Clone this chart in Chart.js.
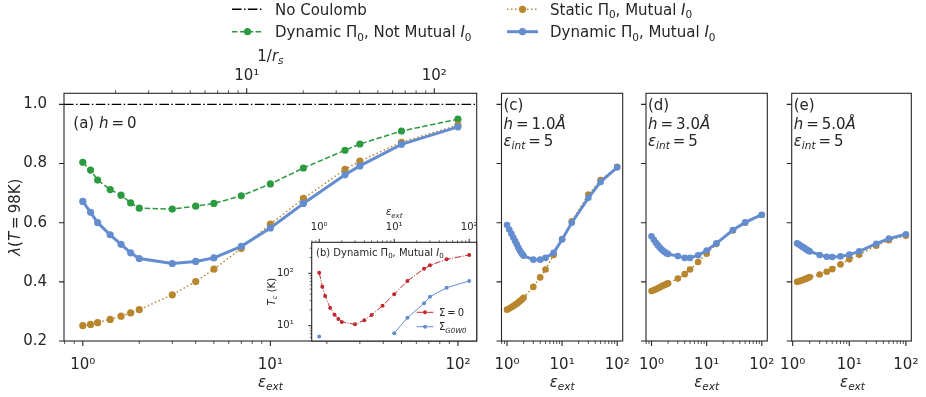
<!DOCTYPE html>
<html>
<head>
<meta charset="utf-8">
<script src="https://cdn.jsdelivr.net/npm/chart.js@4.4.1/dist/chart.umd.min.js"></script>
<style>
  body { margin: 0; background: #fff; overflow: hidden; }
  #wrap { position: relative; width: 926px; height: 397px; }
  #wrap canvas { position: absolute; left: 0; top: 0; }
</style>
</head>
<body>
<div id="wrap">
  <canvas id="chartA" width="926" height="397"></canvas>
  <canvas id="chartB" width="926" height="397"></canvas>
  <canvas id="chartC" width="926" height="397"></canvas>
  <canvas id="chartD" width="926" height="397"></canvas>
  <canvas id="chartE" width="926" height="397"></canvas>
</div>
<script>
// (a) h = 0 : lambda(T = 98K) against eps_ext
var EPS_A = [1, 1.1, 1.2, 1.4, 1.6, 1.8, 2, 3, 4, 5, 7, 10, 15, 25, 30, 50, 100];
var NOT_MUTUAL_A = [0.804, 0.778, 0.744, 0.712, 0.693, 0.667, 0.649, 0.646, 0.656, 0.665, 0.691, 0.731, 0.785, 0.845, 0.866, 0.910, 0.950];
var STATIC_A = [0.252, 0.256, 0.262, 0.273, 0.284, 0.295, 0.306, 0.356, 0.401, 0.443, 0.513, 0.595, 0.682, 0.780, 0.808, 0.872, 0.930];
var DYNAMIC_A = [0.672, 0.635, 0.600, 0.559, 0.527, 0.498, 0.479, 0.462, 0.469, 0.481, 0.520, 0.582, 0.665, 0.762, 0.792, 0.865, 0.924];
var NO_COULOMB = 1.0;

// (b) inset : Tc (K), dynamic Pi0 with mutual I0
var TC_SIGMA0 = [102.6, 55.5, 36.9, 21.8, 16.2, 13.4, 11.8, 10.6, 12.7, 16.0, 24.1, 39.7, 71.3, 122, 142, 185, 223];
var TC_GW = [6.2, null, null, null, null, null, null, null, null, null, null, 7.2, 14.2, 26.7, 35.7, 53, 71.3];

// (c) h = 1.0 A, (d) h = 3.0 A
var EPS_CD = [1, 1.1, 1.2, 1.3, 1.4, 1.5, 1.6, 1.7, 1.8, 1.9, 2, 3, 4, 5, 7, 10, 15, 30, 50, 100];
var DYNAMIC_C = [0.592, 0.577, 0.563, 0.550, 0.538, 0.527, 0.516, 0.507, 0.499, 0.493, 0.488, 0.475, 0.475, 0.481, 0.498, 0.543, 0.600, 0.684, 0.738, 0.787];
var STATIC_C = [0.306, 0.310, 0.314, 0.318, 0.322, 0.326, 0.330, 0.334, 0.338, 0.342, 0.346, 0.383, 0.415, 0.442, 0.491, 0.545, 0.605, 0.695, 0.744, 0.789];
var DYNAMIC_D = [0.554, 0.542, 0.532, 0.524, 0.517, 0.511, 0.506, 0.502, 0.499, 0.496, 0.494, 0.487, 0.481, 0.481, 0.490, 0.506, 0.530, 0.575, 0.601, 0.627];
var STATIC_D = [0.369, 0.372, 0.375, 0.378, 0.381, 0.384, 0.387, 0.389, 0.391, 0.393, 0.395, 0.411, 0.426, 0.442, 0.467, 0.495, 0.528, 0.574, 0.600, 0.626];

// (e) h = 5.0 A
var EPS_E = [1.2, 1.3, 1.4, 1.5, 1.6, 1.7, 1.8, 1.9, 2, 3, 4, 5, 7, 10, 15, 30, 50, 100];
var DYNAMIC_E = [0.530, 0.526, 0.522, 0.518, 0.515, 0.511, 0.508, 0.505, 0.503, 0.491, 0.485, 0.484, 0.486, 0.492, 0.503, 0.529, 0.546, 0.561];
var STATIC_E = [0.400, 0.402, 0.404, 0.406, 0.408, 0.410, 0.412, 0.414, 0.416, 0.425, 0.434, 0.443, 0.459, 0.476, 0.492, 0.522, 0.541, 0.556];

// axis limits and ticks
var X_LIM = [0.794, 125.9];
var X_LIM_E = [0.962, 124.8];
var RS_LIM = [1.062, 168.3];
var Y_LIM = [0.2, 1.0375];
var TC_LIM = [5.1, 390];
var Y_TICKS = [0.2, 0.4, 0.6, 0.8, 1.0];
var DECADES = [1, 10, 100];
var DECADE_MINOR = [0.6, 0.7, 0.8, 0.9, 2, 3, 4, 5, 6, 7, 8, 9, 20, 30, 40, 50, 60, 70, 80, 90, 200, 300];
var POW_LABELS = {1: '10\u2070', 10: '10\u00b9', 100: '10\u00b2'};

var W = 926, H = 397;
var AX_H = 30, AX_W = 40;   // room kept for tick labels around each plot area
var FONT = '"DejaVu Sans", sans-serif';
var INK = '#262626';
var BLUE = '#648dd0', GOLD = '#b8862c', GREEN = '#2c9a40', RED = '#c1272d';

function pts(xs, ys) {
    return xs.map(function(x, i) { return {x: x, y: ys[i]}; });
}

function series(xs, ys, color, width, dash, r) {
    return {
        data: pts(xs, ys),
        borderColor: color,
        borderWidth: width,
        borderDash: dash,
        borderCapStyle: 'butt',
        pointRadius: r,
        pointBackgroundColor: color,
        pointBorderColor: color,
        pointBorderWidth: 0,
        spanGaps: false,
        tension: 0
    };
}

function logAxis(pos, lim, majors, labels, size, pad) {
    return {
        type: 'logarithmic', position: pos, min: lim[0], max: lim[1], bounds: 'data',
        grid: {display: false}, border: {display: false},
        afterBuildTicks: function(s) { s.ticks = majors.map(function(v) { return {value: v}; }); },
        afterFit: function(s) { if (pos === 'left') s.width = AX_W; else s.height = AX_H; },
        ticks: {
            display: labels, autoSkip: false, maxRotation: 0, padding: pad, color: INK,
            font: {family: FONT, size: size},
            callback: function(v) { return POW_LABELS[v] || ''; }
        }
    };
}

function linAxis(labels) {
    return {
        type: 'linear', position: 'left', min: Y_LIM[0], max: Y_LIM[1], bounds: 'data',
        grid: {display: false}, border: {display: false},
        afterBuildTicks: function(s) { s.ticks = Y_TICKS.map(function(v) { return {value: v}; }); },
        afterFit: function(s) { s.width = AX_W; },
        ticks: {
            display: labels, padding: 9, color: INK, font: {family: FONT, size: 15},
            callback: function(v) { return v.toFixed(1); }
        }
    };
}

// text with italic / subscript pieces, mathtext style
function rich(ctx, segs, x, y, size, align) {
    function font(st) {
        return (st.indexOf('i') >= 0 ? 'italic ' : '') + (st.indexOf('s') >= 0 ? size * 0.7 : size) + 'px ' + FONT;
    }
    var w = 0;
    segs.forEach(function(s) { ctx.font = font(s[1]); w += ctx.measureText(s[0]).width; });
    var cx = align === 'center' ? x - w / 2 : (align === 'right' ? x - w : x);
    ctx.textAlign = 'left';
    ctx.textBaseline = 'alphabetic';
    segs.forEach(function(s) {
        ctx.font = font(s[1]);
        ctx.fillText(s[0], cx, s[1].indexOf('s') >= 0 ? y + size * 0.22 : y);
        cx += ctx.measureText(s[0]).width;
    });
}

function drawText(ctx, t) {
    if (t.rot) {
        ctx.save();
        ctx.translate(t.x, t.y);
        ctx.rotate(-Math.PI / 2);
        rich(ctx, t.segs, 0, t.off, t.size, 'center');
        ctx.restore();
    } else {
        rich(ctx, t.segs, t.x, t.y, t.size, t.align || 'left');
    }
}

function tickMarks(ctx, scale, vals, len, width) {
    var a = scale.chart.chartArea;
    ctx.lineWidth = width;
    ctx.beginPath();
    vals.forEach(function(v) {
        if (v < scale.min || v > scale.max) return;
        var p = scale.getPixelForValue(v);
        if (scale.position === 'bottom') { ctx.moveTo(p, a.bottom); ctx.lineTo(p, a.bottom + len); }
        else if (scale.position === 'top') { ctx.moveTo(p, a.top); ctx.lineTo(p, a.top - len); }
        else { ctx.moveTo(a.left, p); ctx.lineTo(a.left - len, p); }
    });
    ctx.stroke();
}

function decor(spec) {
    return {
        id: 'decor',
        beforeDraw: function(chart) {
            if (!spec.fill) return;
            var a = chart.chartArea, ctx = chart.ctx;
            ctx.save();
            ctx.fillStyle = '#fff';
            ctx.fillRect(a.left, a.top, a.right - a.left, a.bottom - a.top);
            ctx.restore();
        },
        afterDraw: function(chart) {
            var ctx = chart.ctx, a = chart.chartArea;
            ctx.save();
            ctx.strokeStyle = INK;
            spec.ticks.forEach(function(t) {
                tickMarks(ctx, chart.scales[t[0]], t[1], t[2], t[3]);
            });
            ctx.lineWidth = 1.1;
            ctx.strokeRect(a.left, a.top, a.right - a.left, a.bottom - a.top);
            ctx.fillStyle = INK;
            (spec.texts || []).forEach(function(t) { drawText(ctx, t); });
            if (spec.extra) spec.extra(ctx, chart);
            ctx.restore();
        }
    };
}

function makeChart(id, box, scales, datasets, spec) {
    var hasTop = false, hasBottom = false;
    Object.keys(scales).forEach(function(k) {
        if (scales[k].position === 'top') hasTop = true;
        if (scales[k].position === 'bottom') hasBottom = true;
    });
    return new Chart(document.getElementById(id), {
        type: 'line',
        data: {datasets: datasets},
        options: {
            responsive: false,
            animation: false,
            devicePixelRatio: 1,
            events: [],
            layout: {padding: {
                left: box[0] - AX_W,
                top: box[1] - (hasTop ? AX_H : 0),
                right: W - box[2],
                bottom: H - box[3] - (hasBottom ? AX_H : 0)
            }},
            plugins: {legend: {display: false}, tooltip: {enabled: false}},
            scales: scales
        },
        plugins: [decor(spec)]
    });
}

function handle(ctx, x0, x1, y, color, width, dash, r) {
    ctx.save();
    ctx.strokeStyle = color;
    ctx.lineWidth = width;
    ctx.setLineDash(dash);
    ctx.lineCap = 'butt';
    ctx.beginPath();
    ctx.moveTo(x0, y);
    ctx.lineTo(x1, y);
    ctx.stroke();
    if (r) {
        ctx.fillStyle = color;
        ctx.beginPath();
        ctx.arc((x0 + x1) / 2, y, r, 0, Math.PI * 2);
        ctx.fill();
    }
    ctx.restore();
}

var EPS_LABEL = [['\u03b5', 'i'], ['ext', 'is']];
var TS = '\u2009=\u2009';
var BIG_TICKS = [['x', DECADES, 5, 1.1], ['x', DECADE_MINOR, 3, 0.8], ['y', Y_TICKS, 5, 1.1]];

// (a)
makeChart('chartA', [64, 93.3, 476.7, 341], {
    x: logAxis('bottom', X_LIM, DECADES, true, 15, 7),
    xt: logAxis('top', RS_LIM, [10, 100], true, 15, 0),
    y: linAxis(true)
}, [
    series(EPS_A, DYNAMIC_A, BLUE, 3, [], 3.6),
    series(EPS_A, STATIC_A, GOLD, 1.5, [1.5, 2.5], 3.6),
    series(EPS_A, NOT_MUTUAL_A, GREEN, 1.5, [5.5, 2.4], 3.6),
    series(X_LIM, X_LIM.map(function() { return NO_COULOMB; }), '#000', 1.4, [9.6, 2.4, 1.5, 2.4], 0)
], {
    ticks: BIG_TICKS.concat([['xt', [10, 100], 5, 1.1], ['xt', DECADE_MINOR, 3, 0.8]]),
    texts: [
        {segs: EPS_LABEL, x: 270.4, y: 387, size: 15, align: 'center'},
        {segs: [['1/', ''], ['r', 'i'], ['s', 'is']], x: 270.4, y: 60.5, size: 15, align: 'center'},
        {segs: [['\u03bb', 'i'], ['(', ''], ['T', 'i'], [TS + '98K)', '']], x: 15, y: 217.2, off: 4.7, size: 15, rot: true},
        {segs: [['(a) ', ''], ['h', 'i'], [TS + '0', '']], x: 73.3, y: 128.3, size: 15}
    ],
    extra: function(ctx) {
        handle(ctx, 232, 263, 9.3, '#000', 1.4, [9.6, 2.4, 1.5, 2.4], 0);
        handle(ctx, 232, 263, 31.7, GREEN, 1.5, [5.5, 2.4], 3.6);
        handle(ctx, 507, 538, 9.3, GOLD, 1.5, [1.5, 2.5], 3.6);
        handle(ctx, 507, 538, 31.7, BLUE, 3, [], 3.6);
        ctx.fillStyle = INK;
        rich(ctx, [['No Coulomb', '']], 275, 14.8, 15);
        rich(ctx, [['Dynamic \u03a0', ''], ['0', 's'], [', Not Mutual ', ''], ['I', 'i'], ['0', 's']], 275, 37.2, 15);
        rich(ctx, [['Static \u03a0', ''], ['0', 's'], [', Mutual ', ''], ['I', 'i'], ['0', 's']], 550, 14.8, 15);
        rich(ctx, [['Dynamic \u03a0', ''], ['0', 's'], [', Mutual ', ''], ['I', 'i'], ['0', 's']], 550, 37.2, 15);
    }
});

// (b) inset
makeChart('chartB', [311.7, 242.3, 476.7, 341], {
    x: logAxis('top', X_LIM, DECADES, true, 10, 0.5),
    y: logAxis('left', TC_LIM, [10, 100], true, 10, 10)
}, [
    series(EPS_A, TC_GW, BLUE, 1, [], 2),
    series(EPS_A, TC_SIGMA0, RED, 1, [6.4, 1.6, 1, 1.6], 2)
], {
    fill: true,
    ticks: [['x', DECADES, 3.5, 1], ['x', DECADE_MINOR, 2, 0.7], ['y', [10, 100], 3.5, 1], ['y', DECADE_MINOR, 2, 0.7]],
    texts: [
        {segs: EPS_LABEL, x: 394.2, y: 215.4, size: 10, align: 'center'},
        {segs: [['T', 'i'], ['c', 'is'], [' (K)', '']], x: 271.7, y: 291.7, off: 3.2, size: 10, rot: true},
        {segs: [['(b) Dynamic \u03a0', ''], ['0', 's'], [', Mutual ', ''], ['I', 'i'], ['0', 's']], x: 316, y: 255.5, size: 10},
        {segs: [['\u03a3' + TS + '0', '']], x: 439, y: 315.9, size: 10},
        {segs: [['\u03a3', ''], ['G0W0', 'is']], x: 439, y: 330.3, size: 10}
    ],
    extra: function(ctx) {
        handle(ctx, 416.7, 433.3, 312.3, RED, 1, [6.4, 1.6, 1, 1.6], 2);
        handle(ctx, 416.7, 433.3, 326.7, BLUE, 1, [], 2);
    }
});

// (c), (d), (e)
function sidePanel(id, box, lim, eps, dyn, stat, tag, h) {
    var left = box[0] + 2, mid = (box[0] + box[2]) / 2;
    makeChart(id, box, {
        x: logAxis('bottom', lim, DECADES, true, 15, 7),
        y: linAxis(false)
    }, [
        series(eps, dyn, BLUE, 3, [], 3.3),
        series(eps, stat, GOLD, 1.5, [1.5, 2.5], 3.3)
    ], {
        ticks: BIG_TICKS,
        texts: [
            {segs: EPS_LABEL, x: mid, y: 387, size: 15, align: 'center'},
            {segs: [[tag, '']], x: left, y: 109.7, size: 15},
            {segs: [['h', 'i'], [TS + h, ''], ['\u00c5', 'i']], x: left, y: 129.3, size: 15},
            {segs: [['\u03b5', 'i'], ['int', 'is'], [TS + '5', '']], x: left, y: 146, size: 15}
        ]
    });
}

sidePanel('chartC', [501.5, 93.3, 622.7, 341], X_LIM, EPS_CD, DYNAMIC_C, STATIC_C, '(c)', '1.0');
sidePanel('chartD', [646, 93.3, 767.3, 341], X_LIM, EPS_CD, DYNAMIC_D, STATIC_D, '(d)', '3.0');
sidePanel('chartE', [791.7, 93.3, 913.3, 341], X_LIM_E, EPS_E, DYNAMIC_E, STATIC_E, '(e)', '5.0');
</script>
</body>
</html>
